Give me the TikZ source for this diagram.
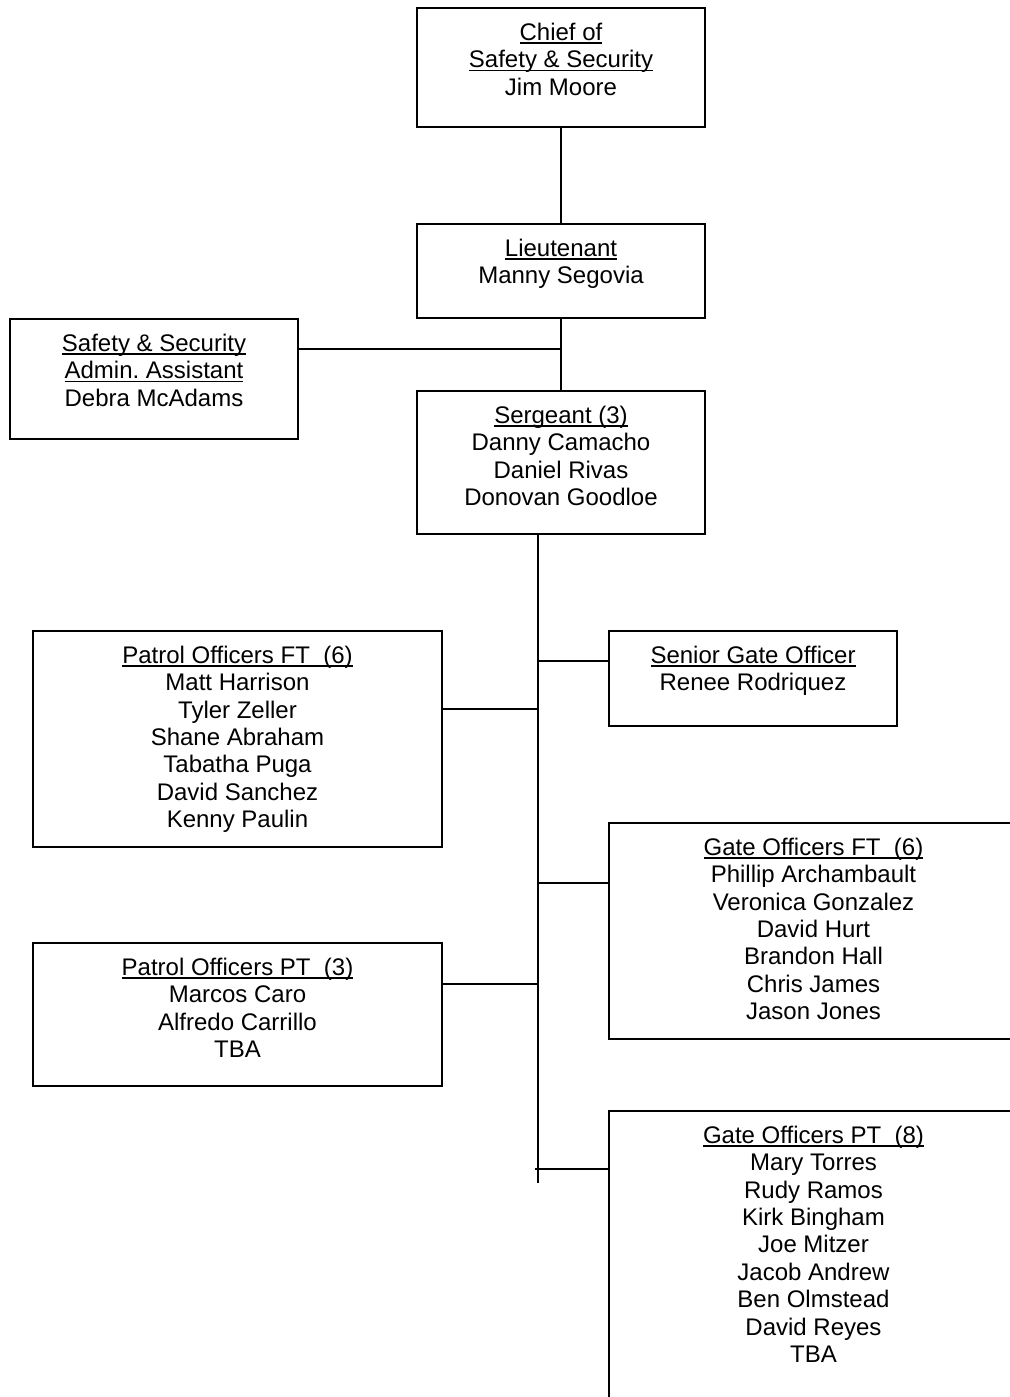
\documentclass[tikz,border=0pt]{standalone}
\usepackage{fontspec}
\setmainfont{Liberation Sans}
\frenchspacing
\newcommand{\myul}[1]{\setbox0\hbox{#1}\rlap{\rule[-1.7pt]{\wd0}{0.7pt}}\box0}
\begin{document}
\begin{tikzpicture}[x=0.5pt,y=-0.5pt,
  box/.style={draw,line width=0.8pt,rectangle,inner sep=0pt,outer sep=0pt,anchor=north west},
  txt/.style={align=center,inner sep=0pt,anchor=north,font=\fontsize{12}{13.7}\selectfont},
  conn/.style={line width=0.8pt}]
\useasboundingbox (0,0) rectangle (1010,1397);
% boxes
\node[box,minimum width=144pt,minimum height=59.5pt] (chief) at (417,8) {};
\node[box,minimum width=144pt,minimum height=47pt] (lt) at (417,224) {};
\node[box,minimum width=144pt,minimum height=60pt] (admin) at (10,319) {};
\node[box,minimum width=144pt,minimum height=71.5pt] (serg) at (417,391) {};
\node[box,minimum width=204.5pt,minimum height=108pt] (pft) at (33,631) {};
\node[box,minimum width=144pt,minimum height=47.5pt] (sgo) at (609,631) {};
\node[box,minimum width=204.5pt,minimum height=108pt] (gft) at (609,823) {};
\node[box,minimum width=204.5pt,minimum height=71.5pt] (ppt) at (33,943) {};
\node[box,minimum width=204.5pt,minimum height=150pt] (gpt) at (609,1111) {};
% texts
\node[txt] (chief-t) at ([yshift=-6.35pt]chief.north) {\strut\myul{Chief of}\\\myul{Safety \& Security}\\Jim Moore};
\node[txt] (lt-t) at ([yshift=-6.35pt]lt.north) {\strut\myul{Lieutenant}\\Manny Segovia};
\node[txt] (admin-t) at ([yshift=-6.35pt]admin.north) {\strut\myul{Safety \& Security}\\\myul{Admin.\ Assistant}\\Debra McAdams};
\node[txt] (serg-t) at ([yshift=-6.35pt]serg.north) {\strut\myul{Sergeant (3)}\\Danny Camacho\\Daniel Rivas\\Donovan Goodloe};
\node[txt] (pft-t) at ([yshift=-6.35pt]pft.north) {\strut\myul{Patrol Officers FT\ \ (6)}\\Matt Harrison\\Tyler Zeller\\Shane Abraham\\Tabatha Puga\\David Sanchez\\Kenny Paulin};
\node[txt] (sgo-t) at ([yshift=-6.35pt]sgo.north) {\strut\myul{Senior Gate Officer}\\Renee Rodriquez};
\node[txt] (gft-t) at ([yshift=-6.35pt]gft.north) {\strut\myul{Gate Officers FT\ \ (6)}\\Phillip Archambault\\Veronica Gonzalez\\David Hurt\\Brandon Hall\\Chris James\\Jason Jones};
\node[txt] (ppt-t) at ([yshift=-6.35pt]ppt.north) {\strut\myul{Patrol Officers PT\ \ (3)}\\Marcos Caro\\Alfredo Carrillo\\TBA};
\node[txt] (gpt-t) at ([yshift=-6.35pt]gpt.north) {\strut\myul{Gate Officers PT\ \ (8)}\\Mary Torres\\Rudy Ramos\\Kirk Bingham\\Joe Mitzer\\Jacob Andrew\\Ben Olmstead\\David Reyes\\TBA};
% junction coordinates
\coordinate (ja) at (561,349);
\coordinate (trunk) at (538,534);
\coordinate (trunkend) at (538,1183);
\coordinate (j1) at (538,661);
\coordinate (j2) at (538,709);
\coordinate (j3) at (538,883);
\coordinate (j4) at (538,984);
\coordinate (j5) at (535,1169);
% connectors
\draw[conn] (chief.south) -- (lt.north);
\draw[conn] (lt.south) -- (serg.north);
\draw[conn] (admin.east |- ja) -- (ja);
\draw[conn] (trunk) -- (trunkend);
\draw[conn] (j1) -- (sgo.west |- j1);
\draw[conn] (pft.east |- j2) -- (j2);
\draw[conn] (j3) -- (gft.west |- j3);
\draw[conn] (ppt.east |- j4) -- (j4);
\draw[conn] (j5) -- (gpt.west |- j5);
\end{tikzpicture}
\end{document}
